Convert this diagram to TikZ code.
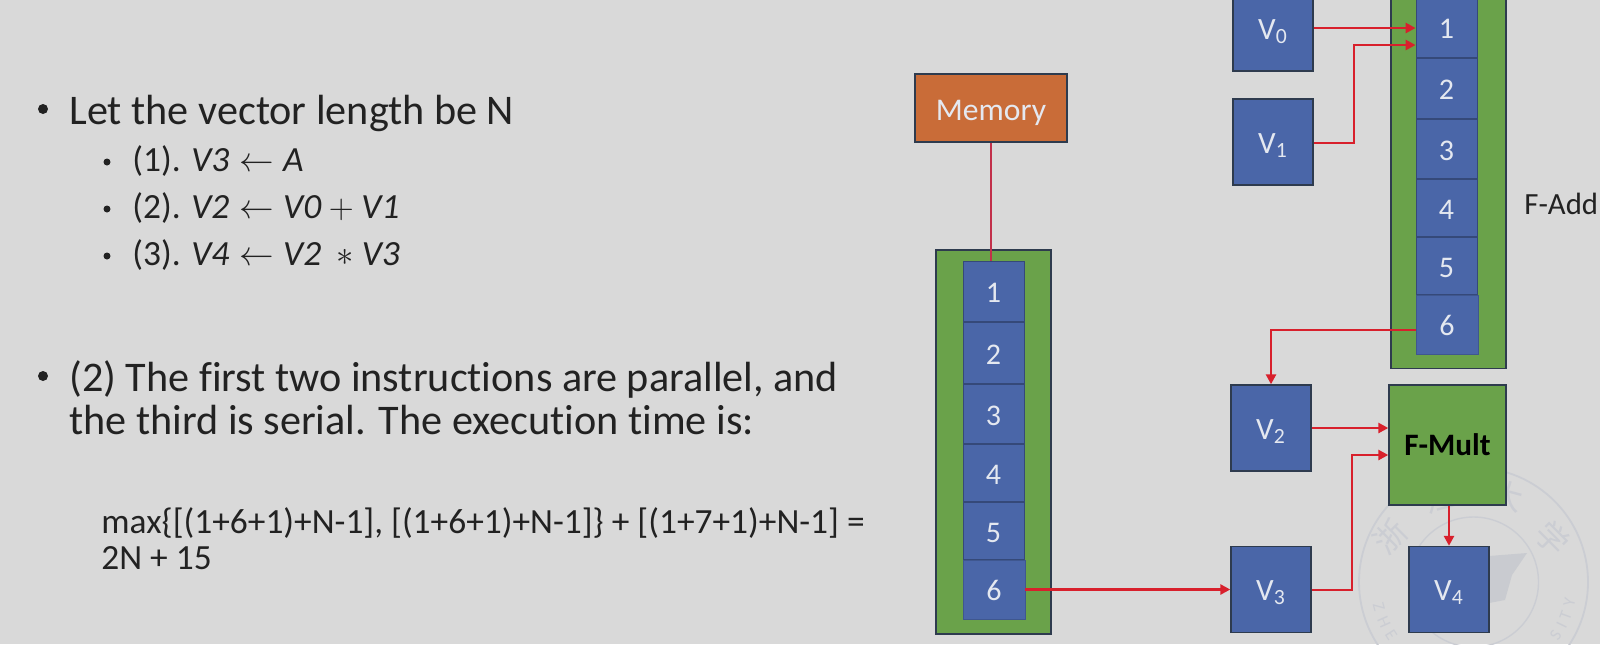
\documentclass[tikz,border=0pt]{standalone}
\usepackage{fontspec}
\setmainfont[Ligatures=NoCommon]{Carlito}
\newfontfamily\cjkf{Noto Sans CJK SC}
\usetikzlibrary{arrows.meta}
\definecolor{bgc}{HTML}{D9D9D9}
\definecolor{bluec}{HTML}{4A66A8}
\definecolor{greenc}{HTML}{6AA24A}
\definecolor{orangec}{HTML}{C96C38}
\definecolor{edgec}{HTML}{2E3B4E}
\definecolor{redc}{HTML}{D8202C}
\definecolor{memwire}{HTML}{C2304A}
\definecolor{txtc}{HTML}{222222}
\definecolor{lightc}{HTML}{E4E8F0}
\definecolor{sealc}{HTML}{CBCDD3}
\definecolor{wingc}{HTML}{C9CBD0}
\tikzset{
  x=0.5pt,y=-0.5pt,
  panel/.style={draw=edgec,line width=0.7pt,fill=greenc},
  reg/.style={draw=edgec,line width=0.7pt,fill=bluec,text=lightc,font=\fontsize{15.5}{17}\selectfont,inner sep=0pt},
  cell/.style={fill=bluec,text=lightc,font=\fontsize{15}{17}\selectfont,inner sep=0pt},
  wire/.style={draw=redc,line width=1.25pt},
  wirea/.style={wire,-{Triangle[length=5pt,width=5pt]}},
  bigt/.style={anchor=base west,inner sep=0pt,text=txtc,font=\fontsize{21.1}{25}\selectfont},
  midt/.style={anchor=base west,inner sep=0pt,text=txtc,font=\fontsize{17.7}{21}\selectfont},
  dott/.style={circle,fill=txtc,inner sep=0pt},
  sealt/.style={text=sealc,font=\fontsize{8.5}{9}\selectfont,inner sep=0pt},
  sealh/.style={text=sealc,font=\cjkf\fontsize{16}{17}\selectfont,inner sep=0pt},
}
\newcommand{\sub}[2]{\raisebox{-5.5pt}[0pt][0pt]{#1\textsubscript{#2}}}
\newcommand{\low}[1]{\raisebox{-5.5pt}[0pt][0pt]{#1}}
\begin{document}
\begin{tikzpicture}
\useasboundingbox (0,0) rectangle (1600,644);
\fill[bgc] (0,0) rectangle (1600,644);
% seal watermark
\draw[sealc,line width=0.9pt] (1473.5,582) circle (114.5);
\draw[sealc,line width=0.7pt] (1473.5,582) circle (65);
\fill[wingc] (1489,556) -- (1527,553) -- (1512,575) -- (1505,600) -- (1489,603) -- cycle;
\node[sealh,rotate=45] (s1) at (1390,537) {浙};
\node[sealh,rotate=15] (s2) at (1440,498) {江};
\node[sealh,rotate=-15] (s3) at (1507,496) {大};
\node[sealh,rotate=-45] (s4) at (1553,538) {学};
\foreach \c/\t [count=\i] in {Z/165,H/156,E/147}{
  \node[sealt,rotate={90-\t}] (sl\i) at ({1473.5+98*cos(\t)},{582+98*sin(\t)}) {\c};
}
\foreach \c/\t [count=\i] in {S/33,I/26,T/20,Y/12}{
  \node[sealt,rotate={90-\t}] (sr\i) at ({1473.5+98*cos(\t)},{582+98*sin(\t)}) {\c};
}
% left text
\node[dott,minimum size=5pt] (b1) at (43,109) {};
\node[bigt] (t1) at (69,124) {Let the vector length be N};
\node[dott,minimum size=3.5pt] (b2) at (107,162) {};
\node[midt] (t2) at (132,171) {(1). $\mathit{V3} \leftarrow \mathit{A}$};
\node[dott,minimum size=3.5pt] (b3) at (107,209) {};
\node[midt] (t3) at (132,218) {(2). $\mathit{V2} \leftarrow \mathit{V0}+\mathit{V1}$};
\node[dott,minimum size=3.5pt] (b4) at (107,256) {};
\node[midt] (t4) at (132,265) {(3). $\mathit{V4} \leftarrow \mathit{V2}\ *\mathit{V3}$};
\node[dott,minimum size=5pt] (b5) at (43,376) {};
\node[bigt] (t5) at (69,391) {(2) The first two instructions are parallel, and};
\node[bigt] (t6) at (69,434) {the third is serial. The execution time is:};
\node[midt] (t7) at (101,533) {max\{[(1+6+1)+N-1], [(1+6+1)+N-1]\} + [(1+7+1)+N-1] =};
\node[midt] (t8) at (101,569) {2N + 15};
% memory
\node[draw=edgec,line width=0.7pt,fill=orangec,text=lightc,font=\fontsize{15.8}{17}\selectfont,minimum width=76pt,minimum height=34pt,inner sep=0pt] (mem) at (991,108) {\raisebox{-6pt}[0pt][0pt]{Memory}};
% left pipeline
\node[panel,minimum width=57.5pt,minimum height=192pt,inner sep=0pt] (lp) at (993.5,442) {};
\foreach \n/\yt/\yb in {1/261/322,2/322/384,3/384/444,4/444/502,5/502/560}{
  \node[cell,draw=bluec!72!black,line width=0.4pt,minimum width=30.5pt,minimum height={(\yb-\yt)*0.5pt-0.4pt}] (l\n) at (993.5,{(\yt+\yb)/2}) {\low{\n}};
}
\node[cell,draw=bluec!85!black,line width=0.4pt,minimum width=31pt,minimum height=29.5pt] (l6) at (994,589.5) {\low{6}};
% right pipeline
\node[panel,minimum width=57.5pt,minimum height=192pt,inner sep=0pt,anchor=south] (rp) at (1448.5,369) {};
\foreach \n/\yt/\yb in {1/-3/58,2/58/119,3/119/179,4/179/237,5/237/295}{
  \node[cell,draw=bluec!72!black,line width=0.4pt,minimum width=30.5pt,minimum height={(\yb-\yt)*0.5pt-0.4pt}] (r\n) at (1446.5,{(\yt+\yb)/2}) {\low{\n}};
}
\node[cell,draw=bluec!85!black,line width=0.4pt,minimum width=31pt,minimum height=29.5pt] (r6) at (1447,324.5) {\low{6}};
% registers
\node[reg,minimum width=40pt,minimum height=43pt] (v0) at (1273,28) {\sub{V}{0}};
\node[reg,minimum width=40pt,minimum height=43pt] (v1) at (1273,142) {\sub{V}{1}};
\node[reg,minimum width=40pt,minimum height=43pt] (v2) at (1271,428) {\sub{V}{2}};
\node[reg,minimum width=40pt,minimum height=43pt] (v3) at (1271,589.5) {\sub{V}{3}};
\node[reg,minimum width=40pt,minimum height=43pt] (v4) at (1449,589.5) {\sub{V}{4}};
\node[panel,text=black,font=\bfseries\fontsize{15.6}{17}\selectfont,minimum width=58.5pt,minimum height=60pt,inner sep=0pt] (fm) at (1447.5,445) {F-Mult};
\node[anchor=base west,inner sep=0pt,text=txtc,font=\fontsize{15.4}{17}\selectfont] (fa) at (1524,214) {F-Add};
% connectors
\coordinate (r1a) at (r1.west |- v0.east);
\coordinate (r1b) at (r1.west |- 0,45);
\coordinate (e1) at (1354,143);
\draw[wirea] (v0.east) -- (r1a);
\draw[wirea] (v1.east |- e1) -- (e1) -- (e1 |- r1b) -- (r1b);
\draw[wire,draw=memwire] (mem.south) -- (l1.north -| mem.south);
\draw[wirea] (l6.east) -- (v3.west);
\coordinate (e2) at (v2.north |- 0,330);
\draw[wirea] (r6.west |- e2) -- (e2) -- (v2.north);
\draw[wirea] (v2.east) -- (fm.west |- v2.east);
\coordinate (e3) at (1352,590);
\coordinate (f3) at (fm.west |- 0,455);
\draw[wirea] (v3.east |- e3) -- (e3) -- (e3 |- f3) -- (f3);
\draw[wirea] (fm.south -| 1449,0) -- (v4.north);
\end{tikzpicture}
\end{document}
